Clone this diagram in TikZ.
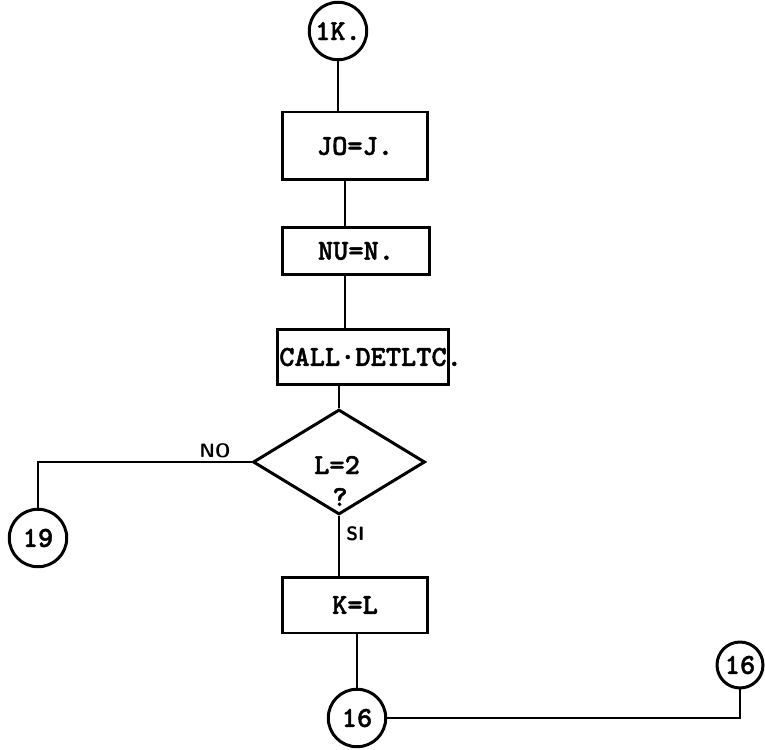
\documentclass[tikz,border=0pt]{standalone}
\usepackage{fontspec}
\newfontfamily\boxfont{lmmonolt10-bold.otf}[FakeBold=1.5]
\usetikzlibrary{shapes.geometric}

\begin{document}
\begin{tikzpicture}[x=0.02cm, y=-0.02cm, line width=1.7pt,
    every node/.style={font=\fontsize{16.5}{19}\selectfont\boxfont},
    procbox/.style={draw, rectangle, inner xsep=0.04cm, inner ysep=0pt},
    conn/.style={draw, circle, inner sep=0pt, minimum size=1.15cm},
    cond/.style={draw, diamond, inner sep=0pt, minimum width=3.44cm, minimum height=2.1cm},
    flag/.style={font=\fontsize{11}{12}\selectfont\sffamily\bfseries}]

  \useasboundingbox (0,0) rectangle (765,750);

  %% Entry connector
  \node[conn] (k1) at (338,31) {1K.};

  %% Assignment boxes
  \node[procbox, minimum width=2.9cm, minimum height=1.36cm] (jo) at (355,146) {JO=J.};
  \node[procbox, minimum width=2.96cm, minimum height=0.94cm] (nu) at (356,251) {NU=N.};
  \node[procbox, minimum width=3.4cm, minimum height=1.1cm] (call) at (363,357)
    {CALL·DETLTC\rlap{.}};

  %% Decision
  \node[cond] (test) at (339,462) {};
  \node (testa) at (337,465) {L=2};
  \node (testb) at (340,497) {?};

  %% Branch SI
  \node[procbox, minimum width=2.9cm, minimum height=1.12cm] (kl) at (355,605) {K=L};

  %% Exit connectors
  \node[conn] (c19) at (38,538) {19};
  \node[conn] (c16) at (357,718) {16};
  \node[conn, minimum size=0.92cm] (c16b) at (740,665) {16};

  %% Flow lines
  \draw (k1) -- (k1 |- jo.north);
  \draw ([xshift=-0.2cm]jo.south) -- ([xshift=-0.2cm]jo.south |- nu.north);
  \draw ([xshift=-0.22cm]nu.south) -- ([xshift=-0.22cm]nu.south |- call.north);
  \draw (call.south -| test.north) -- (test.north);
  \draw (test.south) -- (test.south |- kl.north)
    node[flag, pos=0.3, right] (si) {SI};
  \draw (test.west) -- (test.west -| c19) -- (c19);
  \node[flag] (no) at (215,451) {NO};
  \draw (kl.south -| c16) -- (c16);
  \draw (c16) -- (c16 -| c16b) -- (c16b);

\end{tikzpicture}
\end{document}
